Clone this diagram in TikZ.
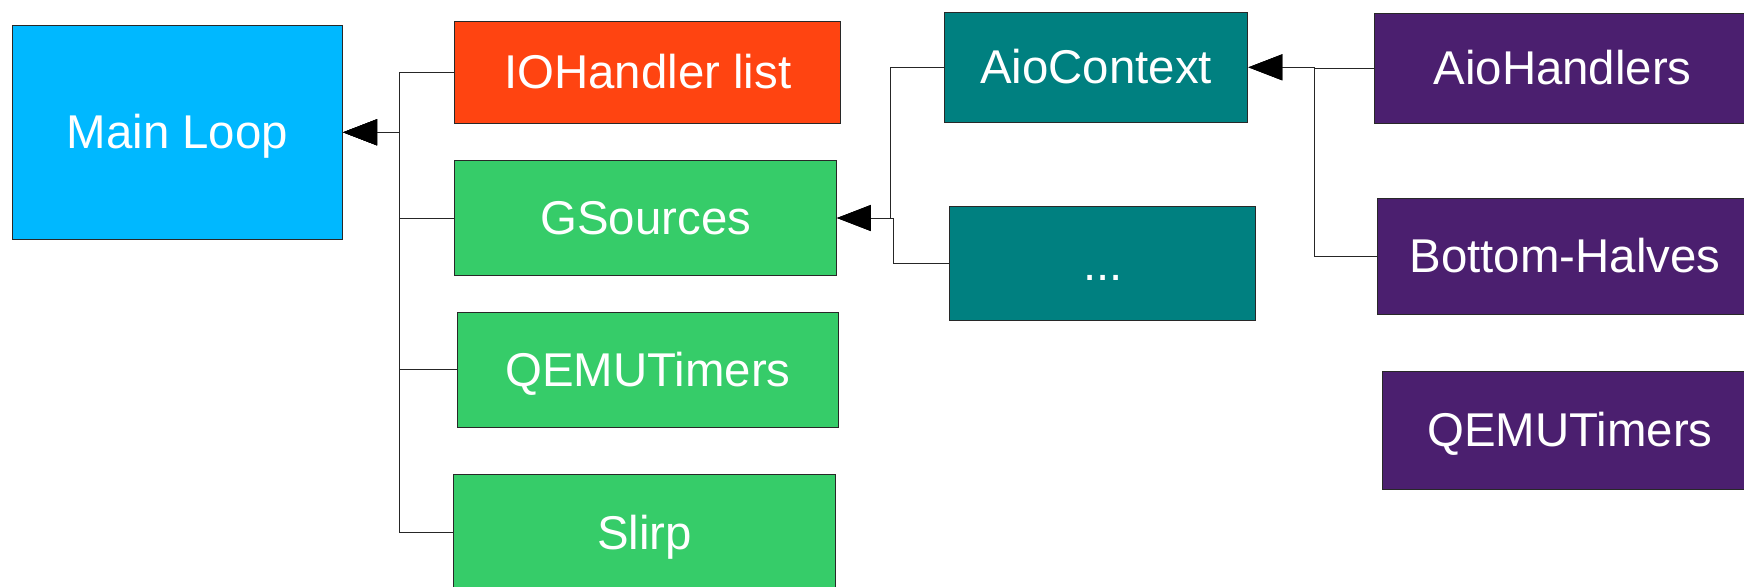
\documentclass[tikz,border=0pt]{standalone}
\usepackage{fontspec}
\setmainfont{Liberation Sans}
\usetikzlibrary{arrows.meta,calc}

\definecolor{mainblue}{RGB}{0,184,255}
\definecolor{iored}{RGB}{255,68,17}
\definecolor{srcgreen}{RGB}{54,204,105}
\definecolor{aioteal}{RGB}{0,128,128}
\definecolor{hpurple}{RGB}{75,31,111}
\definecolor{edgegray}{RGB}{40,40,40}

\tikzset{
  box/.style={rectangle, draw=edgegray, line width=0.5pt, inner sep=0pt,
    text=white, font=\fontsize{23.7pt}{28pt}\selectfont,
    text height=21.45pt, text depth=5.02pt},
  sz/.style 2 args={minimum width=#1*0.5pt, minimum height=#2*0.5pt},
  conn/.style={draw=black!85, line width=0.5pt,
    -{Triangle[length=17pt,width=13pt,color=black]}},
}

\begin{document}
\begin{tikzpicture}[x=0.5pt, y=-0.5pt]
  \useasboundingbox (0,0) rectangle (1744,586);
  \clip (0,0) rectangle (1744,586);

  % main loop and its sources
  \node[box, fill=mainblue, sz={330.4}{213.5}] (main) at (177.4,132.3) {Main Loop};
  \node[box, fill=iored,    sz={385.9}{102.4}] (io)   at (647.9,72.3)  {IOHandler list};
  \node[box, fill=srcgreen, sz={381.5}{115.6}] (gs)   at (645.7,218)   {GSources};
  \node[box, fill=srcgreen, sz={381.5}{114.6}] (qt)   at (647.9,369.8) {QEMUTimers};
  \node[box, fill=srcgreen, sz={381.5}{116}]   (slirp) at (644.6,532.9) {Slirp};

  % AioContext level
  \node[box, fill=aioteal, sz={303.6}{110.1}] (aio)  at (1096.1,67.3)  {AioContext};
  \node[box, fill=aioteal, sz={305.9}{113.4}] (dots) at (1102.8,263.6) {...};

  % handlers
  \node[box, fill=hpurple, sz={375.8}{110.2}] (ah)  at (1562.6,68.4)  {AioHandlers};
  \node[box, fill=hpurple, sz={376}{116.8}]   (bh)  at (1565,256.4)   {Bottom-Halves};
  \node[box, fill=hpurple, sz={375}{117.9}]   (qt2) at (1570,430.5)   {QEMUTimers};

  % trunk points of the orthogonal connectors
  \coordinate (mainT)  at ($(main.east)+(56.7,0)$);
  \coordinate (gsTa)   at ($(gs.east)+(53.4,0)$);
  \coordinate (gsTb)   at ($(gs.east)+(56.6,0)$);
  \coordinate (aioT)   at ($(aio.east)+(65.6,0)$);

  % connectors
  \draw[conn] (io.west)    -| (mainT) -- (main.east);
  \draw[conn] (gs.west)    -| (mainT) -- (main.east);
  \draw[conn] (qt.west)    -| (mainT) -- (main.east);
  \draw[conn] (slirp.west) -| (mainT) -- (main.east);

  \draw[conn] (aio.west)  -| (gsTa) -- (gs.east);
  \draw[conn] (dots.west) -| (gsTb) -- (gs.east);

  \draw[conn] (ah.west) -| (aioT) -- (aio.east);
  \draw[conn] (bh.west) -| (aioT) -- (aio.east);
\end{tikzpicture}
\end{document}
